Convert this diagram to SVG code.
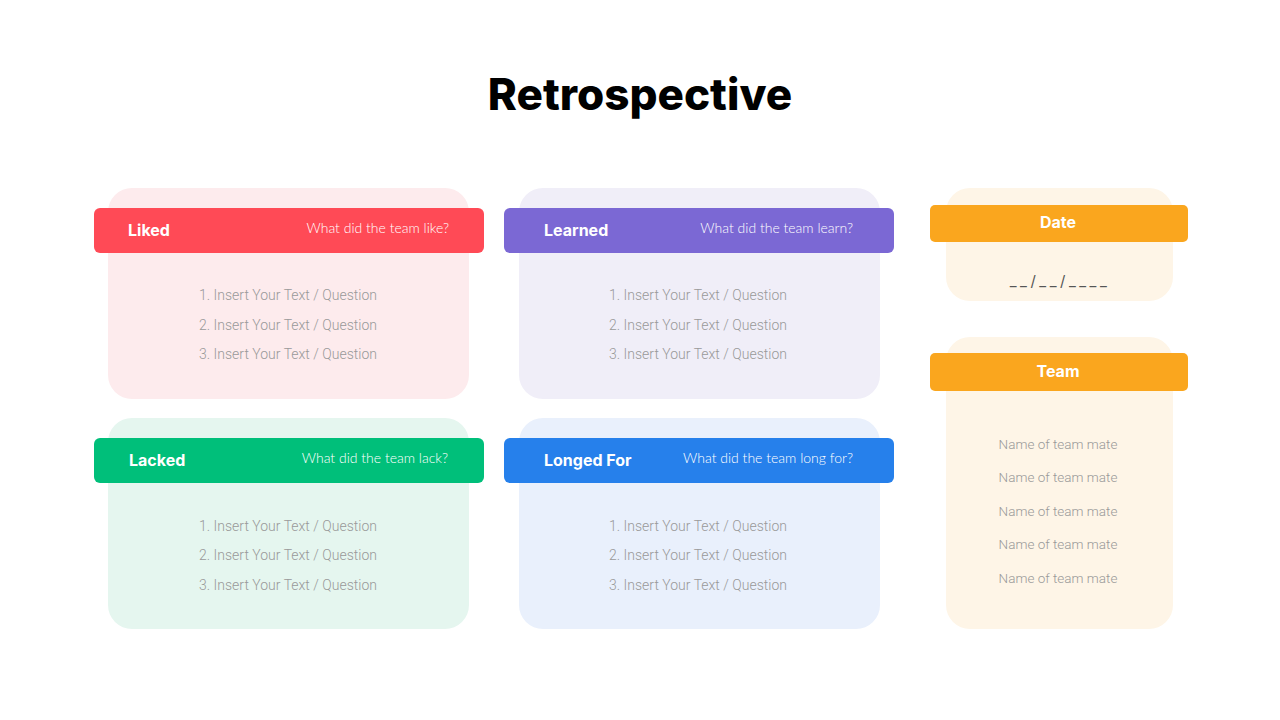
<svg xmlns="http://www.w3.org/2000/svg" width="1280" height="720" viewBox="0 0 1280 720">
<style>
.title{font-family:Inter,"Open Sans","Liberation Sans",sans-serif;font-weight:800;font-size:44px;fill:#000;text-anchor:middle}
.hd{font-family:Inter,"Open Sans","Liberation Sans",sans-serif;font-weight:700;font-size:16px;fill:#fff}
.q{font-family:Lato,"Open Sans","Liberation Sans",sans-serif;font-weight:300;font-size:14px;fill:#fff;text-anchor:end}
.it{font-family:Roboto,"Liberation Sans",sans-serif;font-weight:300;font-size:14px;fill:#999;text-anchor:middle}
.nm{font-size:13.5px}
.ct{text-anchor:middle}
</style>
<rect width="1280" height="720" fill="#fff"/>
<text class="title" x="640" y="110">Retrospective</text>

<g id="liked">
<rect x="108" y="188" width="361" height="211" rx="24" fill="#FDEBED"/>
<rect x="94" y="208" width="390" height="45" rx="6" fill="#FF4A56"/>
<text class="hd" x="128" y="236">Liked</text>
<text class="q" x="449" y="233">What did the team like?</text>
<text class="it" x="288" y="300">1. Insert Your Text / Question</text>
<text class="it" x="288" y="330">2. Insert Your Text / Question</text>
<text class="it" x="288" y="359">3. Insert Your Text / Question</text>
</g>

<g id="learned">
<rect x="519" y="188" width="361" height="211" rx="24" fill="#F0EEF8"/>
<rect x="504" y="208" width="390" height="45" rx="6" fill="#7B68D4"/>
<text class="hd" x="544" y="236">Learned</text>
<text class="q" x="853" y="233">What did the team learn?</text>
<text class="it" x="698" y="300">1. Insert Your Text / Question</text>
<text class="it" x="698" y="330">2. Insert Your Text / Question</text>
<text class="it" x="698" y="359">3. Insert Your Text / Question</text>
</g>

<g id="lacked">
<rect x="108" y="418" width="361" height="211" rx="24" fill="#E5F6EF"/>
<rect x="94" y="438" width="390" height="45" rx="6" fill="#00BF7A"/>
<text class="hd" x="129" y="466">Lacked</text>
<text class="q" x="448" y="463">What did the team lack?</text>
<text class="it" x="288" y="531">1. Insert Your Text / Question</text>
<text class="it" x="288" y="560">2. Insert Your Text / Question</text>
<text class="it" x="288" y="590">3. Insert Your Text / Question</text>
</g>

<g id="longed">
<rect x="519" y="418" width="361" height="211" rx="24" fill="#E9F0FC"/>
<rect x="504" y="438" width="390" height="45" rx="6" fill="#2680EB"/>
<text class="hd" x="544" y="466">Longed For</text>
<text class="q" x="853" y="463">What did the team long for?</text>
<text class="it" x="698" y="531">1. Insert Your Text / Question</text>
<text class="it" x="698" y="560">2. Insert Your Text / Question</text>
<text class="it" x="698" y="590">3. Insert Your Text / Question</text>
</g>

<g id="date">
<rect x="946" y="188" width="227" height="113" rx="24" fill="#FEF5E7"/>
<rect x="930" y="205" width="258" height="37" rx="5" fill="#FAA61E"/>
<text class="hd ct" x="1058" y="228">Date</text>
<text x="1060" y="286" font-family="Inter,'Liberation Sans',sans-serif" font-size="15" fill="#555" text-anchor="middle" letter-spacing="3.5">__/__/____</text>
</g>

<g id="team">
<rect x="946" y="337" width="227" height="292" rx="24" fill="#FEF5E7"/>
<rect x="930" y="353" width="258" height="38" rx="5" fill="#FAA61E"/>
<text class="hd ct" x="1058" y="377">Team</text>
<text class="it nm" x="1058" y="449">Name of team mate</text>
<text class="it nm" x="1058" y="482">Name of team mate</text>
<text class="it nm" x="1058" y="516">Name of team mate</text>
<text class="it nm" x="1058" y="549">Name of team mate</text>
<text class="it nm" x="1058" y="583">Name of team mate</text>
</g>
<g id="connectors"/>
</svg>
